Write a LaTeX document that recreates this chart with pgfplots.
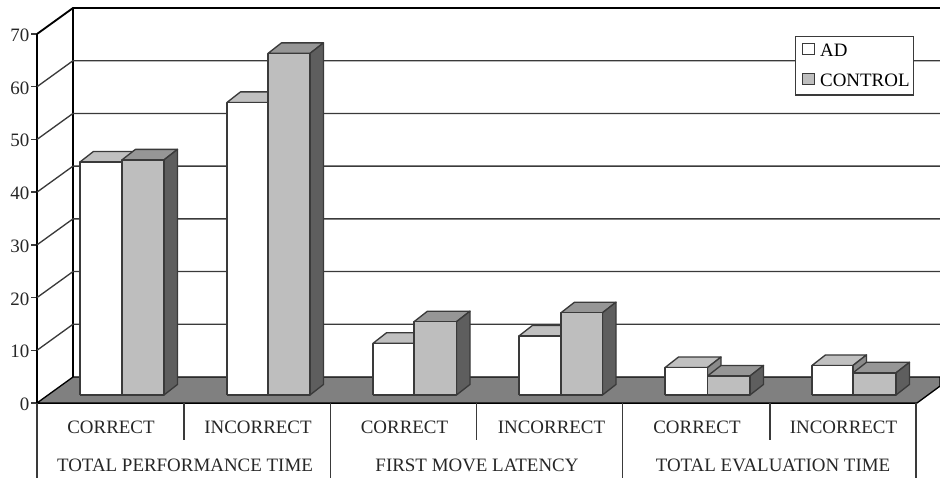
\documentclass[border=0pt]{standalone}
\usepackage{fontspec}
\setmainfont{Liberation Serif}
\usepackage{pgfplots}
\pgfplotsset{compat=1.18}

\definecolor{inkline}{HTML}{3A3A3A}
\definecolor{floorgray}{HTML}{808080}
\definecolor{ctrlfront}{HTML}{BEBEBE}
\definecolor{ctrltop}{HTML}{969696}
\definecolor{ctrlside}{HTML}{5E5E5E}
\definecolor{adtop}{HTML}{C0C0C0}
\definecolor{adside}{HTML}{8A8A8A}

% Oblique projection offsets, in axis units: x is in layout units, y in seconds.
\pgfmathsetmacro{\barbase}{1.52}
\pgfmathsetmacro{\depthx}{13.5}
\pgfmathsetmacro{\depthy}{2.0}

% One extruded column: left edge, right edge, value, then face colours.
\newcommand{\solidbar}[6]{%
  \pgfmathsetmacro{\ytop}{\barbase+#3}%
  \pgfmathsetmacro{\ybb}{\barbase+\depthy}%
  \pgfmathsetmacro{\ytb}{\ytop+\depthy}%
  \pgfmathsetmacro{\xlb}{#1+\depthx}%
  \pgfmathsetmacro{\xrb}{#2+\depthx}%
  \addplot[forget plot,fill=#5,draw=inkline,bar line]
    coordinates {(#1,\ytop) (#2,\ytop) (\xrb,\ytb) (\xlb,\ytb) (#1,\ytop)};
  \addplot[forget plot,fill=#6,draw=inkline,bar line]
    coordinates {(#2,\barbase) (\xrb,\ybb) (\xrb,\ytb) (#2,\ytop) (#2,\barbase)};
  \addplot[forget plot,fill=#4,draw=inkline,bar line]
    coordinates {(#1,\barbase) (#2,\barbase) (#2,\ytop) (#1,\ytop) (#1,\barbase)};
}
% Back-wall gridline and its slanted return to the value axis.
\newcommand{\wallrule}[2]{%
  \addplot[forget plot,draw=inkline,bar line]
    coordinates {(37,#1) (73,#2) (940,#2)};
}
\tikzset{bar line/.style={line width=1pt,line join=round}}

\begin{document}
\begin{tikzpicture}
\useasboundingbox (0,0) rectangle (705pt,358.5pt);
\begin{axis}[
  anchor=south west,
  at={(27.75pt,56.25pt)},
  scale only axis,
  width=660pt,
  height=276.75pt,
  xmin=37, xmax=917,
  ymin=0, ymax=70,
  clip=false,
  axis y line=left,
  axis x line=bottom,
  axis line style={-,line width=1pt,color=black},
  ytick={0,10,...,70},
  /pgf/number format/assume math mode=true,
  ticklabel style={font=\fontsize{14.2}{17}\selectfont,color=black!85},
  y tick label style={xshift=2.2pt,yshift=-1pt},
  ytick style={line width=1pt,color=inkline},
  major tick length=4.5pt,
  tick align=outside,
  ytick pos=left,
  xtick={111,258,404.5,551.5,697,843.5},
  xticklabels={CORRECT,INCORRECT,CORRECT,INCORRECT,CORRECT,INCORRECT},
  xtick style={draw=none},
  x tick label style={yshift=-5.7pt},
  extra x ticks={185,477,773},
  extra x tick labels={TOTAL PERFORMANCE TIME,FIRST MOVE LATENCY,TOTAL EVALUATION TIME},
  extra x tick style={tick label style={yshift=-33pt},major tick length=0pt},
  legend style={
    at={(axis cs:914,69.65)},anchor=north east,
    draw=inkline,line width=1pt,fill=white,
    font=\fontsize{14.2}{17}\selectfont,
    inner xsep=1.5pt,inner ysep=4pt,
    row sep=9pt,
    nodes={inner sep=1.3pt,yshift=-1.3pt},
    /tikz/column 1/.style={column sep=2.25pt},
  },
  legend cell align=left,
  legend image code/.code={%
    \path (0pt,0pt);
    \draw[#1,line width=0.9pt] (3.75pt,-4.3pt) rectangle (12.75pt,4.3pt);},
]
% Legend swatches
\addlegendimage{fill=white,draw=inkline}
\addlegendentry{AD}
\addlegendimage{fill=ctrlfront,draw=inkline}
\addlegendentry{CONTROL}

% Floor of the chart box
\addplot[forget plot,fill=floorgray,draw=black,line width=1pt]
  coordinates {(37,0) (73,4.93) (940,4.93) (940,3.2) (917,0) (37,0)};

% Back wall: top edge, left edge and gridlines
\addplot[forget plot,draw=black,line width=1.4pt] coordinates {(37,70) (73,74.93) (940,74.93)};
\addplot[forget plot,draw=black,line width=1pt] coordinates {(73,4.93) (73,74.93)};
\wallrule{60}{64.93}
\wallrule{50}{54.93}
\wallrule{40}{44.93}
\wallrule{30}{34.93}
\wallrule{20}{24.93}
\wallrule{10}{14.93}

% Total performance time
\solidbar{80}{122}{44.2}{white}{adtop}{adside}
\solidbar{122}{164}{44.6}{ctrlfront}{ctrltop}{ctrlside}
\solidbar{227}{268}{55.5}{white}{adtop}{adside}
\solidbar{268}{310}{64.8}{ctrlfront}{ctrltop}{ctrlside}
% First move latency
\solidbar{373}{414}{9.8}{white}{adtop}{adside}
\solidbar{414}{456.5}{13.9}{ctrlfront}{ctrltop}{ctrlside}
\solidbar{519}{561}{11.2}{white}{adtop}{adside}
\solidbar{561}{602.5}{15.6}{ctrlfront}{ctrltop}{ctrlside}
% Total evaluation time
\solidbar{665}{707.5}{5.2}{white}{adtop}{adside}
\solidbar{707.5}{750}{3.6}{ctrlfront}{ctrltop}{ctrlside}
\solidbar{812}{853}{5.6}{white}{adtop}{adside}
\solidbar{853}{896}{4.2}{ctrlfront}{ctrltop}{ctrlside}

% Rules of the two-level category table under the floor
\addplot[forget plot,draw=inkline,line width=1pt] coordinates {(37,0) (37,-14.3)};
\addplot[forget plot,draw=inkline,line width=1pt] coordinates {(184,0) (184,-7)};
\addplot[forget plot,draw=inkline,line width=1pt] coordinates {(330.5,0) (330.5,-14.3)};
\addplot[forget plot,draw=inkline,line width=1pt] coordinates {(476.7,0) (476.7,-7)};
\addplot[forget plot,draw=inkline,line width=1pt] coordinates {(622.7,0) (622.7,-14.3)};
\addplot[forget plot,draw=inkline,line width=1pt] coordinates {(770,0) (770,-7)};
\addplot[forget plot,draw=inkline,line width=1pt] coordinates {(916,0) (916,-14.3)};
\end{axis}
\end{tikzpicture}
\end{document}
